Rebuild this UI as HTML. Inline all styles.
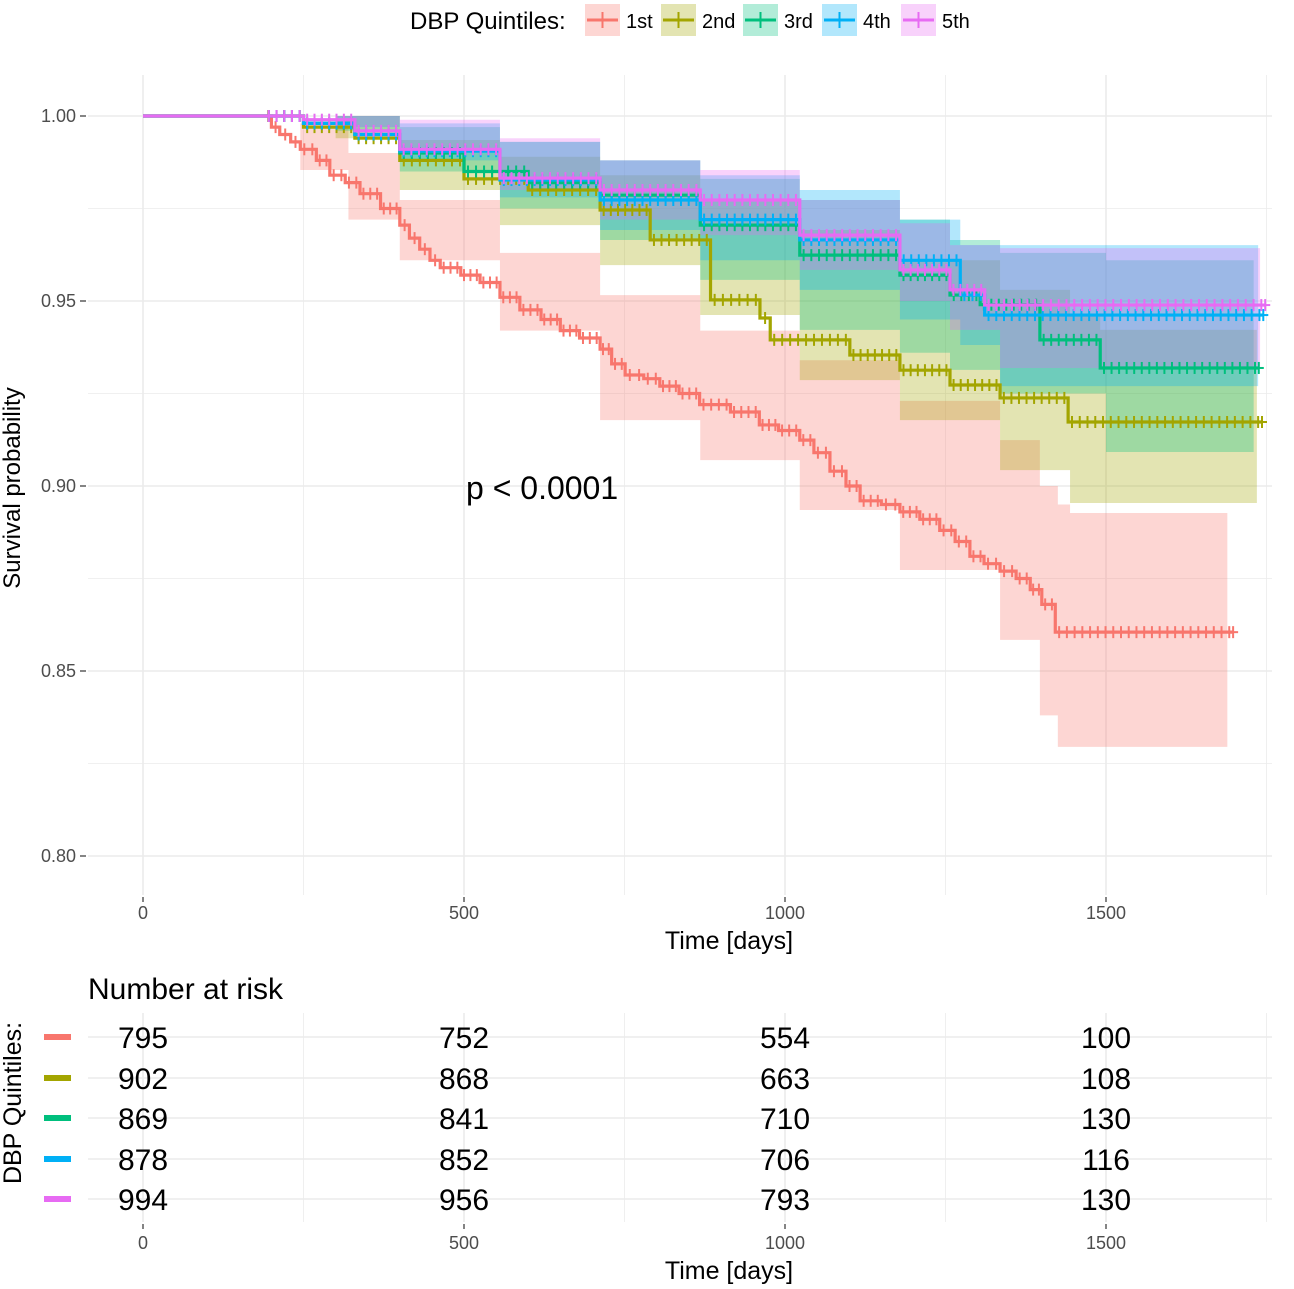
<!DOCTYPE html>
<html><head><meta charset="utf-8"><style>
body{margin:0;background:#fff;font-family:"Liberation Sans",sans-serif}
svg text{font-family:"Liberation Sans",sans-serif}
</style></head><body>
<svg id="c" width="1294" height="1284" viewBox="0 0 1294 1284" xmlns="http://www.w3.org/2000/svg"></svg>
<script>
const groups=["1st","2nd","3rd","4th","5th"];
const colors=["#F8766D","#A3A500","#00BF7D","#00B0F6","#E76BF3"];
const fills=["#F8766D","#A3A500","#00BF7D","#00B0F6","#E76BF3"];
const endT=[1698,1743,1738,1745,1748];
const t1=[0,190,200,213,230,245,270,291,315,338,370,400,415,431,447,463,495,525,556,587,620,650,680,712,730,751,780,805,835,867,915,960,990,1023,1045,1070,1095,1117,1150,1179,1210,1241,1265,1288,1310,1335,1360,1382,1400,1421];
const s1=[1,1,.997,.995,.993,.991,.988,.984,.982,.979,.975,.9705,.967,.964,.961,.959,.957,.955,.951,.9476,.945,.942,.94,.937,.933,.930,.929,.927,.925,.922,.92,.9165,.915,.9124,.909,.904,.9,.896,.895,.893,.891,.888,.885,.881,.879,.877,.875,.872,.868,.8605];
const t2=[0,190,250,330,400,500,600,712,790,884,961,977,1101,1179,1257,1335,1441];
const s2=[1,1,.997,.994,.988,.983,.980,.9746,.9665,.9503,.9454,.9395,.9354,.9313,.9273,.9238,.9173];
const t3=[0,190,250,330,400,500,600,712,868,1023,1179,1257,1304,1397,1491];
const s3=[1,1,.998,.995,.990,.985,.982,.9786,.9705,.9624,.957,.9516,.949,.9395,.9319];
const t4=[0,190,250,330,400,556,712,868,1023,1179,1273,1311];
const s4=[1,1,.998,.995,.9905,.9827,.9773,.972,.9665,.961,.9516,.9462];
const t5=[0,190,250,330,400,556,712,868,1023,1179,1257,1311];
const s5=[1,1,.999,.996,.991,.9832,.980,.9773,.9678,.9584,.953,.9489];
const ct1=[190,245,320,400,556,712,868,1023,1179,1335,1397,1425,1444],cu1=[1,.998,.99,.9773,.963,.9516,.942,.934,.923,.9124,.9,.895,.8927],cl1=[1,.9854,.972,.961,.942,.9178,.907,.8935,.8773,.8584,.838,.8295,.8295];
const ct2=[190,300,400,556,712,868,1023,1179,1335,1444,1491],cu2=[1,1,.9935,.989,.984,.977,.9692,.961,.953,.946,.9422],cl2=[1,.994,.98,.9705,.9597,.9462,.9286,.9178,.9043,.8954,.8954];
const ct3=[190,300,400,556,712,868,1023,1179,1257,1335,1500],cu3=[1,1,.997,.993,.988,.983,.9773,.972,.9665,.963,.961],cl3=[1,.996,.985,.975,.9665,.9557,.9422,.936,.9314,.925,.9092];
const ct4=[190,300,400,556,712,868,1023,1179,1273,1335],cu4=[1,1,.998,.993,.988,.984,.98,.972,.9651,.9651],cl4=[1,.997,.988,.978,.9692,.961,.953,.945,.9381,.927];
const ct5=[190,300,400,556,712,868,1023,1179,1257,1335],cu5=[1,1,.999,.994,.988,.9854,.9773,.971,.9651,.9643],cl5=[1,.997,.99,.98,.972,.9678,.9584,.95,.9422,.9319];
const T=[t1,t2,t3,t4,t5],S=[s1,s2,s3,s4,s5],CT=[ct1,ct2,ct3,ct4,ct5],CU=[cu1,cu2,cu3,cu4,cu5],CL=[cl1,cl2,cl3,cl4,cl5];
const xTicks=[0,500,1000,1500];
const yTicks=[0.80,0.85,0.90,0.95,1.00];
const risk=[[795,752,554,100],[902,868,663,108],[869,841,710,130],[878,852,706,116],[994,956,793,130]];

const NS="http://www.w3.org/2000/svg",svg=document.getElementById('c');
const X=t=>143+0.642*t, Y=s=>116+3700*(1-s);
function el(tag,a,p){const e=document.createElementNS(NS,tag);for(const k in a)e.setAttribute(k,a[k]);(p||svg).appendChild(e);return e;}
function txt(x,y,s,a,p){const e=el('text',Object.assign({x:x,y:y},a),p);e.textContent=s;return e;}

const g=el('g',{});

for(let v=0;v<=1750;v+=250){el('line',{x1:X(v),x2:X(v),y1:75,y2:895,stroke:'#ebebeb','stroke-width':v%500==0?1.6:0.8},g);}
for(let v=0.8;v<=1.0001;v+=0.025){el('line',{x1:88,x2:1272,y1:Y(v),y2:Y(v),stroke:'#ebebeb','stroke-width':Math.round(v*1000)%50==0?1.6:0.8},g);}
const ciEnd=[1689,1735,1730,1737,1740];
for(let i=0;i<5;i++){
  const ct=CT[i],cu=CU[i],cl=CL[i],end=ciEnd[i];
  let up=[],lo=[];
  for(let j=0;j<ct.length;j++){const tn=j<ct.length-1?ct[j+1]:end;up.push([X(ct[j]),Y(cu[j])],[X(tn),Y(cu[j])]);lo.push([X(ct[j]),Y(cl[j])],[X(tn),Y(cl[j])]);}
  const pts=up.concat(lo.reverse()).map(p=>p.join(',')).join(' ');
  const b=el('polygon',{points:pts,fill:fills[i],'fill-opacity':0.3});
  
  
}
for(let i=0;i<5;i++){
  const t=T[i],s=S[i];let d='M'+X(t[0])+','+Y(s[0]);
  for(let j=1;j<t.length;j++){d+=' H'+X(t[j])+' V'+Y(s[j]);}
  d+=' H'+X(endT[i]);
  const p=el('path',{d:d,fill:'none',stroke:colors[i],'stroke-width':3.2});
  
  
  const cg=el('g',{stroke:colors[i],'stroke-width':2});
  
  
  for(let j=1;j<t.length;j++){const a=t[j],b=j<t.length-1?t[j+1]:endT[i];
    const n=Math.max(1,Math.round((b-a)/12));
    for(let k=0;k<n;k++){const tt=a+(b-a)*(k+0.5)/n;const x=X(tt),y=Y(s[j]);
      el('line',{x1:x,x2:x,y1:y-6,y2:y+6},cg);}}
  const xe=X(endT[i]),ye=Y(s[t.length-1]);el('line',{x1:xe-5,x2:xe+5,y1:ye,y2:ye},cg);el('line',{x1:xe,x2:xe,y1:ye-6,y2:ye+6},cg);
}
yTicks.forEach(v=>{const y=Y(v);el('line',{x1:80,x2:86,y1:y,y2:y,stroke:'#333','stroke-width':1.2});
  const t=txt(76,y+6,v.toFixed(2),{'text-anchor':'end','font-size':18,fill:'#4d4d4d'});
  });
xTicks.forEach(v=>{const x=X(v);el('line',{x1:x,x2:x,y1:897,y2:902,stroke:'#333','stroke-width':1.2});
  const t=txt(x,919,v,{'text-anchor':'middle','font-size':18,fill:'#4d4d4d'});
  });
</script>
<script>
(function(){
const svg=document.getElementById('c'),NS="http://www.w3.org/2000/svg";
function el(tag,a,p){const e=document.createElementNS(NS,tag);for(const k in a)e.setAttribute(k,a[k]);(p||svg).appendChild(e);return e;}
function txt(x,y,s,a){const e=el('text',Object.assign({x:x,y:y},a));e.textContent=s;return e;}
const X=t=>143+0.642*t;
let e=txt(0,0,'Survival probability',{transform:'translate(20,488) rotate(-90)','text-anchor':'middle','font-size':24,fill:'#000'});

e=txt(729,949,'Time [days]',{'text-anchor':'middle','font-size':25});

e=txt(466,499,'p < 0.0001',{'font-size':32});

e=txt(410,29,'DBP Quintiles:',{'font-size':24});

const lx=[585,661,743,822,901];
for(let i=0;i<5;i++){
  const g=el('g',{});
  
  el('rect',{x:lx[i],y:4,width:35,height:32,fill:fills[i],'fill-opacity':0.3},g);
  el('line',{x1:lx[i]+2,x2:lx[i]+33,y1:20,y2:20,stroke:colors[i],'stroke-width':3},g);
  el('line',{x1:lx[i]+17.5,x2:lx[i]+17.5,y1:12,y2:28,stroke:colors[i],'stroke-width':2},g);
  const t=el('text',{x:lx[i]+41,y:28,'font-size':20},g);t.textContent=groups[i];
}
e=txt(88,999,'Number at risk',{'font-size':30});

const rg=el('g',{});
for(let v=0;v<=1750;v+=250)el('line',{x1:X(v),x2:X(v),y1:1013,y2:1222,stroke:'#ebebeb','stroke-width':v%500==0?1.6:0.8},rg);
const rowY=[1037,1078,1118,1159,1199];
rowY.forEach(y=>el('line',{x1:88,x2:1272,y1:y,y2:y,stroke:'#ebebeb','stroke-width':1.6},rg));
for(let i=0;i<5;i++){
  const k=el('rect',{x:44,y:rowY[i]-3,width:27,height:6,fill:colors[i]});
  
  for(let j=0;j<4;j++){const t=txt(X(xTicks[j]),rowY[i]+11,risk[i][j],{'text-anchor':'middle','font-size':30});
    }
}
e=txt(0,0,'DBP Quintiles:',{transform:'translate(21,1103) rotate(-90)','text-anchor':'middle','font-size':25});

xTicks.forEach(v=>{const t=txt(X(v),1249,v,{'text-anchor':'middle','font-size':18,fill:'#4d4d4d'});
  
  el('line',{x1:X(v),x2:X(v),y1:1224,y2:1229,stroke:'#333','stroke-width':1.2});});
e=txt(729,1279,'Time [days]',{'text-anchor':'middle','font-size':25});

})();
</script>
</body></html>
